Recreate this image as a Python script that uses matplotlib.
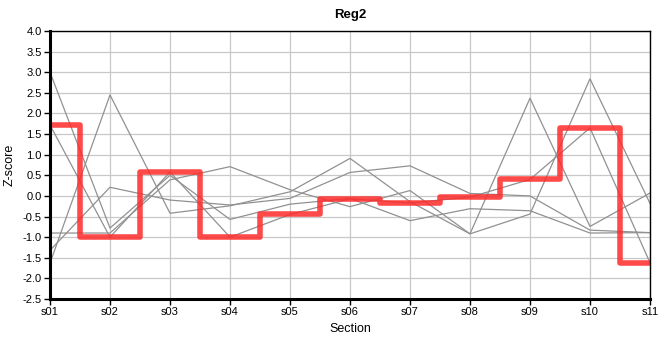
import matplotlib
matplotlib.use("Agg")
import matplotlib.pyplot as plt

plt.rcParams['font.family'] = ['Liberation Sans', 'DejaVu Sans']

sections = ["s01", "s02", "s03", "s04", "s05", "s06", "s07", "s08", "s09", "s10", "s11"]
highlight = [1.72, -1.00, 0.58, -1.00, -0.45, -0.07, -0.17, -0.03, 0.40, 1.65, -1.62]
series_a = [3.00, -0.78, 0.50, -0.57, -0.20, -0.06, -0.60, -0.31, -0.36, -0.90, -0.89]
series_b = [-1.63, 2.45, -0.42, -0.24, 0.10, 0.91, -0.14, -0.92, 2.37, -0.74, 0.07]
series_c = [-1.32, 0.21, -0.10, -0.22, -0.06, 0.57, 0.73, 0.06, 0.00, -0.83, -0.89]
series_d = [-0.90, -0.90, 0.39, 0.71, 0.15, -0.26, 0.13, -0.92, -0.44, 2.84, -0.18]
gray_series = [highlight, series_a, series_b, series_c, series_d]
y_ticks = [4.0, 3.5, 3.0, 2.5, 2.0, 1.5, 1.0, 0.5, 0.0, -0.5, -1.0, -1.5, -2.0, -2.5]

fig = plt.figure(figsize=(6.6, 3.6), dpi=100)
ax = fig.add_axes([50/660, 61/360, 600/660, 268/360])
x = list(range(len(sections)))

for s in gray_series:
    ax.plot(x, s, color="#919191", lw=0.9, zorder=2)
ax.plot(x, highlight, color="#ff2a2a", alpha=0.85, lw=4.0, drawstyle="steps-mid",
        solid_joinstyle="round", solid_capstyle="butt", zorder=3)

ax.set_xlim(0, len(sections) - 1)
ax.set_ylim(-2.5, 4.0)
ax.set_xticks(x)
ax.set_xticklabels(sections)
ax.set_yticks(y_ticks)
ax.set_yticklabels([f"{v:.1f}" for v in y_ticks])
ax.grid(True, color="#c8c8c8", lw=0.9, zorder=0)
ax.set_axisbelow(True)

for side in ["top", "right"]:
    ax.spines[side].set_linewidth(1.0)
for side in ["left", "bottom"]:
    ax.spines[side].set_linewidth(2.2)
for sp in ax.spines.values():
    sp.set_color("black")
    sp.set_zorder(4)

ax.tick_params(axis="both", labelsize=8, length=4, width=1, colors="black", pad=2)
ax.set_title("Reg2", fontsize=9.5, fontweight="bold", pad=9)
ax.set_xlabel("Section", fontsize=9, labelpad=4)
ax.set_ylabel("Z-score", fontsize=9, labelpad=5)

fig.savefig("out.png", dpi=100)
